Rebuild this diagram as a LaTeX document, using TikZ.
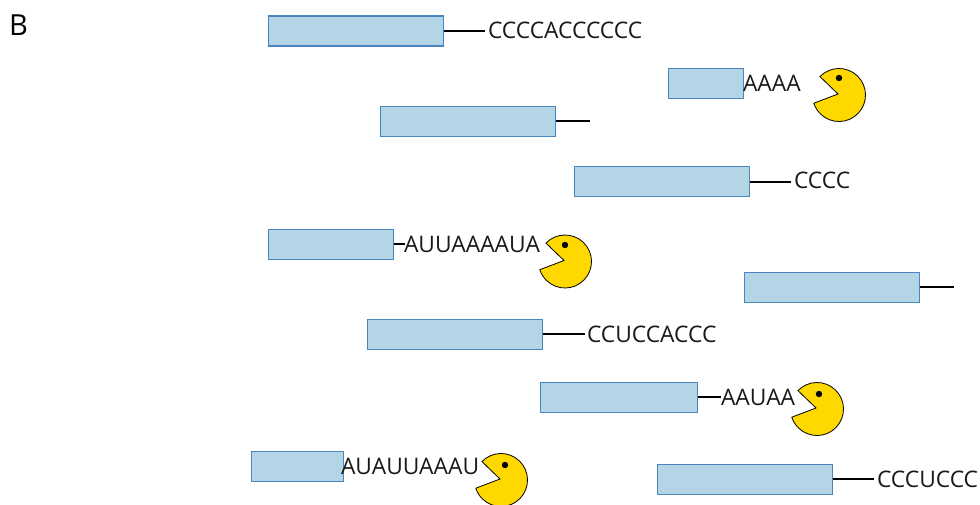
\documentclass[tikz,border=0pt]{standalone}
\usepackage{fontspec}
\setmainfont{Open Sans}
\definecolor{barfill}{HTML}{B4D5E6}
\definecolor{barline}{HTML}{4A86BE}
\definecolor{pacfill}{HTML}{FFD800}
\tikzset{
  x=1pt,y=1pt,
  bar/.style={draw=barline,fill=barfill,line width=1.3pt,rectangle,inner sep=0pt,outer sep=0pt,anchor=north west},
  tail/.style={draw=black,line width=1.9pt},
  seq/.style={inner sep=0pt,outer sep=0pt,anchor=west,font=\fontsize{22.8}{26}\selectfont,text=black!90},
  pacman/.pic={
    \draw[black,fill=pacfill,line width=.8pt] (-1,1) -- (136:26.5) arc[start angle=136,end angle=-162,radius=26.5] -- cycle;
  }
}
\newcommand{\barnode}[5]{\node[bar,minimum width=#4pt,minimum height=#5pt] (#1) at (#2,-#3) {};}
\begin{document}
\begin{tikzpicture}
\useasboundingbox (0,-504) rectangle (980,0);
\clip (0,-504) rectangle (980,0);
\node[anchor=west,inner sep=0pt,font=\fontsize{29}{32}\selectfont] (lab) at (9,-25) {B};

\barnode{b1}{268.5}{16}{175}{30}
\barnode{b2}{668.5}{68.5}{75}{30}
\barnode{b3}{380.5}{106.5}{175}{30}
\barnode{b4}{574.5}{166.5}{175}{30}
\barnode{b5}{268.5}{229.5}{125}{30}
\barnode{b6}{744.5}{272.5}{175}{30}
\barnode{b7}{367.5}{319.5}{175}{30}
\barnode{b8}{540.5}{382.5}{157}{30}
\barnode{b9}{251.5}{451.5}{92}{30}
\barnode{b10}{657.5}{464.5}{175}{30}

\coordinate (e1) at (485,-31);
\coordinate (e3) at (590,-121);
\coordinate (e4) at (791,-182);
\coordinate (e5) at (405,-244);
\coordinate (e6) at (954,-287);
\coordinate (e7) at (585,-334);
\coordinate (e8) at (721,-397);
\coordinate (e10) at (874,-479);
\foreach \a/\b in {b1/e1,b3/e3,b4/e4,b5/e5,b6/e6,b7/e7,b8/e8,b10/e10}
  \draw[tail] (\a.east |- \b) -- (\b);

\node[seq] (s1) at (488,-30) {CCCCACCCCCC};
\node[seq] (s2) at (743,-83) {AAAA};
\node[seq] (s4) at (794,-180.5) {CCCC};
\node[seq] (s5) at (404,-244) {AUUAAAAUA};
\node[seq] (s7) at (587,-334) {CCUCCACCC};
\node[seq] (s8) at (721,-397) {AAUAA};
\node[seq] (s9) at (341,-466) {AUAUUAAAU};
\node[seq] (s10) at (877,-479) {CCCUCCC};

\pic at (839,-95) {pacman};
\pic at (565,-261.5) {pacman};
\pic at (817,-409) {pacman};
\pic at (501,-480) {pacman};
\foreach \ex/\ey in {839/78,565/245,819/394,505/465}
  \fill[black] (\ex,-\ey) circle (3.2);
\end{tikzpicture}
\end{document}
